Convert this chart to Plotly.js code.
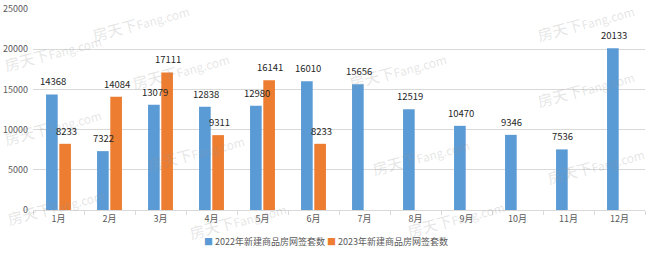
<!DOCTYPE html>
<html><head><meta charset="utf-8">
<script src="https://cdn.plot.ly/plotly-3.0.1.min.js"></script>
<style>body{margin:0;background:#fff}#c{width:650px;height:256px}</style>
</head><body><div id="c"></div>
<script>
const months = ['1月','2月','3月','4月','5月','6月','7月','8月','9月','10月','11月','12月'];
const sales2022 = [14368,7322,13079,12838,12980,16010,15656,12519,10470,9346,7536,20133];
const sales2023 = [8233,14084,17111,9311,16141,8233,null,null,null,null,null,null];
const seriesNames = ['2022年新建商品房网签套数','2023年新建商品房网签套数'];
const seriesColors = ['#5B9BD5','#ED7D31'];
const yTicks = [0,5000,10000,15000,20000,25000];
const watermark = '房天下 Fang.com';

const font = "'Noto Sans CJK SC', 'DejaVu Sans', sans-serif";
const W = 650, H = 256, M = {l:33, r:5, t:9, b:46};
const bargap = 0.48, bargroupgap = 0.12;
function bar(y, name, color){
  return {type:'bar', x:months, y:y, name:name, marker:{color:color}, hoverinfo:'none'};
}
const series = [sales2022, sales2023];
const data = series.map((s,i)=>bar(s, seriesNames[i], seriesColors[i]));
// value labels as annotations (drawn above all bars)
const slot = (1-bargap)/2;
const labelAnns = [];
series.forEach((s,k)=>{
  const off = (k===0?-1:1)*slot/2;
  s.forEach((v,i)=>{
    if(v==null) return;
    labelAnns.push({x:i+off, y:v, xref:'x', yref:'y', text:String(v), showarrow:false,
      yanchor:'bottom', yshift:4, xshift:1, font:{size:9.5,color:'#262626',family:font}});
  });
});
// faint background watermarks (page pixel positions of their centres)
const wmSpots = [[180,70],[397,70],[195,152],[420,156],[237,220],[455,218],[585,88],[140,22],[585,22],[52,52],[52,126],[55,206],[595,165]];
const pw = W-M.l-M.r, ph = H-M.t-M.b;
const wmAnns = wmSpots.map(([px,py])=>({xref:'paper', yref:'paper', x:(px-M.l)/pw, y:(H-M.b-py)/ph,
  xanchor:'center', yanchor:'middle', showarrow:false, textangle:-15,
  text:'<span style="font-size:15px">'+watermark.split(' ')[0]+'</span><span style="font-size:12px">'+watermark.split(' ')[1]+'</span>',
  font:{family:font, color:'rgba(150,150,150,0.25)'}}));
const legendText = seriesNames.map((n,i)=>'<span style="color:'+seriesColors[i]+'">■</span> '+n).join(' ');
const layout = {
  width:W, height:H, margin:M,
  paper_bgcolor:'#fff', plot_bgcolor:'#fff',
  barmode:'group', bargap:bargap, bargroupgap:bargroupgap,
  font:{family:font, size:9, color:'#595959'},
  xaxis:{type:'category', showgrid:false, showline:true, linecolor:'#D9D9D9', ticks:'outside', tickson:'boundaries', ticklen:4, tickcolor:'#D9D9D9', tickfont:{size:9,color:'#595959'}},
  yaxis:{range:[0,25000], tickvals:yTicks, ticktext:yTicks.map(String), showgrid:true, gridcolor:'#D9D9D9', zeroline:false, showline:false, ticks:'', tickfont:{size:9,color:'#595959'}, ticklabelstandoff:4},
  showlegend:false,
  annotations:wmAnns.concat(labelAnns).concat([{xref:'paper', yref:'paper', x:0.478, y:-0.155, xanchor:'center', yanchor:'middle', showarrow:false, text:legendText, font:{size:9,color:'#595959',family:font}}]),
};
Plotly.newPlot('c', data, layout, {displayModeBar:false, staticPlot:true});
</script></body></html>
